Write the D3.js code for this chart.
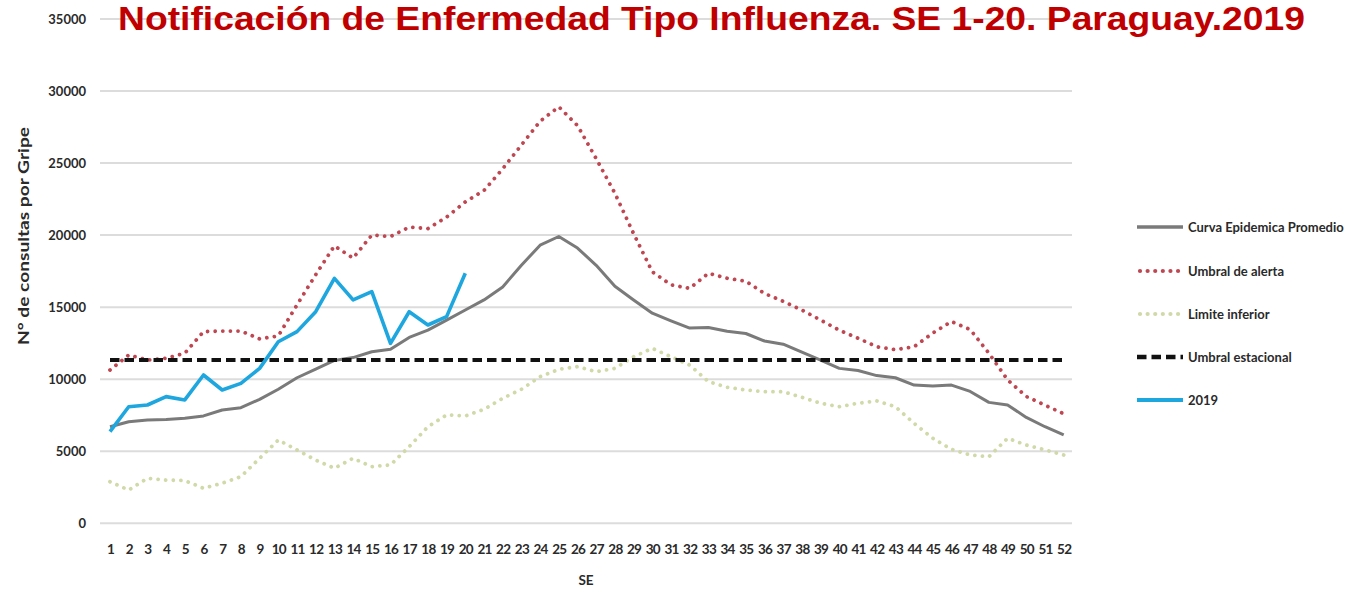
<!DOCTYPE html>
<html>
<head>
<meta charset="utf-8">
<script src="https://cdn.jsdelivr.net/npm/d3@7"></script>
<style>
  html, body { margin: 0; padding: 0; background: #fff; }
  svg { display: block; }
</style>
</head>
<body>
<svg id="chart" width="1349" height="589"></svg>
<script>
// ---- data ----
const weeks = d3.range(1, 53);
const yTicks = [0, 5000, 10000, 15000, 20000, 25000, 30000, 35000];

const curvaPromedio = [6700,7050,7170,7210,7290,7450,7860,8020,8600,9300,10100,10700,11300,11500,11900,12070,12900,13400,14100,14800,15500,16400,17900,19300,19900,19100,17900,16450,15500,14580,14050,13550,13580,13320,13170,12650,12430,11870,11330,10750,10600,10250,10100,9590,9520,9590,9150,8390,8210,7350,6700,6130];

const umbralAlerta = [10640,11680,11330,11450,11800,13300,13340,13340,12800,13000,15150,17250,19250,18400,20000,19900,20550,20450,21250,22300,23100,24600,26250,27900,28900,27600,25300,22900,20100,17450,16550,16300,17350,17000,16800,15950,15400,14800,14100,13400,12850,12250,12050,12250,13200,14000,13450,11800,9950,8800,8200,7600];

const limiteInferior = [2890,2310,3120,3000,2970,2430,2780,3240,4510,5780,5090,4390,3820,4510,3930,4050,5320,6700,7520,7450,7910,8670,9300,10170,10690,10870,10520,10750,11560,12140,11560,10980,9830,9440,9250,9130,9130,8740,8330,8090,8330,8490,8090,6940,5900,5130,4740,4620,5900,5430,5090,4740];

const umbralEstacional = 11330;

const weeks2019 = d3.range(1, 21);
const serie2019 = [6360,8090,8210,8790,8560,10290,9250,9710,10750,12600,13300,14680,17000,15500,16070,12490,14680,13760,14340,17350];

const titleText = "Notificación de Enfermedad Tipo Influenza. SE 1-20. Paraguay.2019";
const yAxisLabel = "N° de consultas por Gripe";
const xAxisLabel = "SE";
const legendLabels = ["Curva Epidemica Promedio", "Umbral de alerta", "Limite inferior", "Umbral estacional", "2019"];

// ---- styles ----
const styles = {
  curva:   { stroke: "#7a7a7a", width: 3,   dash: null },
  alerta:  { stroke: "#bf4752", width: 3.8, dash: "0.01 7.6", cap: "round" },
  inferior:{ stroke: "#d0d9a8", width: 3.8, dash: "0.01 7.6", cap: "round" },
  estac:   { stroke: "#111111", width: 4,   dash: "9.5 5" },
  y2019:   { stroke: "#1ea6df", width: 3.6, dash: null }
};

const svg = d3.select("#chart");
const plotLeft = 100, plotRight = 1072;

const x = d3.scalePoint().domain(weeks).range([110, 1063.7]);
const y = d3.scaleLinear().domain([0, 35000]).range([523.3, 18.9]);

const tickFont = "Lato, 'Open Sans', 'DejaVu Sans', sans-serif";
const textColor = "#2a2a2a";

// gridlines
svg.append("g")
  .selectAll("line")
  .data(yTicks)
  .join("line")
  .attr("x1", plotLeft).attr("x2", plotRight)
  .attr("y1", d => y(d)).attr("y2", d => y(d))
  .attr("stroke", "#dcdcdc").attr("stroke-width", 2);

// y axis labels
const yAxis = d3.axisLeft(y).tickValues(yTicks).tickSize(0).tickPadding(0).tickFormat(d3.format("d"));
const gy = svg.append("g").attr("transform", "translate(86,0)").call(yAxis);
gy.select(".domain").remove();
gy.selectAll("text")
  .attr("font-family", tickFont).attr("font-size", 13).attr("font-weight", "bold")
  .attr("fill", textColor);

// x axis labels
const xAxis = d3.axisBottom(x).tickSize(0).tickPadding(0);
const gx = svg.append("g").attr("transform", "translate(0,544)").call(xAxis);
gx.select(".domain").remove();
gx.selectAll("text")
  .attr("font-family", tickFont).attr("font-size", 13.5).attr("font-weight", "bold")
  .attr("letter-spacing", -0.7)
  .attr("fill", textColor);

// axis titles
svg.append("text")
  .attr("x", 586).attr("y", 585)
  .attr("text-anchor", "middle")
  .attr("font-family", tickFont).attr("font-size", 13.5).attr("font-weight", "bold")
  .attr("fill", textColor)
  .text(xAxisLabel);

svg.append("text")
  .attr("transform", "translate(29,236) rotate(-90)")
  .attr("text-anchor", "middle")
  .attr("font-family", tickFont).attr("font-size", 15).attr("font-weight", "bold")
  .attr("fill", textColor)
  .attr("textLength", 218).attr("lengthAdjust", "spacingAndGlyphs")
  .text(yAxisLabel);

// lines
const line = d3.line().x(d => x(d[0])).y(d => y(d[1]));

function drawSeries(xs, vals, st) {
  const p = svg.append("path")
    .datum(xs.map((w, i) => [w, vals[i]]))
    .attr("d", line)
    .attr("fill", "none")
    .attr("stroke", st.stroke)
    .attr("stroke-width", st.width)
    .attr("stroke-linejoin", "round");
  if (st.dash) p.attr("stroke-dasharray", st.dash);
  p.attr("stroke-linecap", st.cap || "butt");
  return p;
}

drawSeries(weeks, curvaPromedio, styles.curva);
drawSeries(weeks, umbralAlerta, styles.alerta);
drawSeries(weeks, limiteInferior, styles.inferior);
drawSeries(weeks, weeks.map(() => umbralEstacional), styles.estac);
drawSeries(weeks2019, serie2019, styles.y2019);

// legend
const legendStyles = [styles.curva, styles.alerta, styles.inferior, styles.estac, styles.y2019];
const legendY = [227, 271, 314, 357, 400];
const lg = svg.append("g");
legendLabels.forEach((lab, i) => {
  const st = legendStyles[i];
  const l = lg.append("line")
    .attr("x1", st.cap ? 1140 : 1137).attr("x2", 1183)
    .attr("y1", legendY[i]).attr("y2", legendY[i])
    .attr("stroke", st.stroke)
    .attr("stroke-width", st.width + 0.4)
    .attr("stroke-linecap", st.cap || "butt");
  if (st.dash) l.attr("stroke-dasharray", st.dash);
  lg.append("text")
    .attr("x", 1188).attr("y", legendY[i])
    .attr("dominant-baseline", "central")
    .attr("font-family", tickFont).attr("font-size", 13).attr("font-weight", "bold")
    .attr("fill", textColor)
    .text(lab);
});

// title
svg.append("text")
  .attr("x", 118).attr("y", 30)
  .attr("font-family", "'Liberation Sans', Arial, sans-serif")
  .attr("font-size", 33).attr("font-weight", "bold")
  .attr("fill", "#c00000")
  .attr("textLength", 1187).attr("lengthAdjust", "spacingAndGlyphs")
  .text(titleText);
</script>
</body>
</html>
